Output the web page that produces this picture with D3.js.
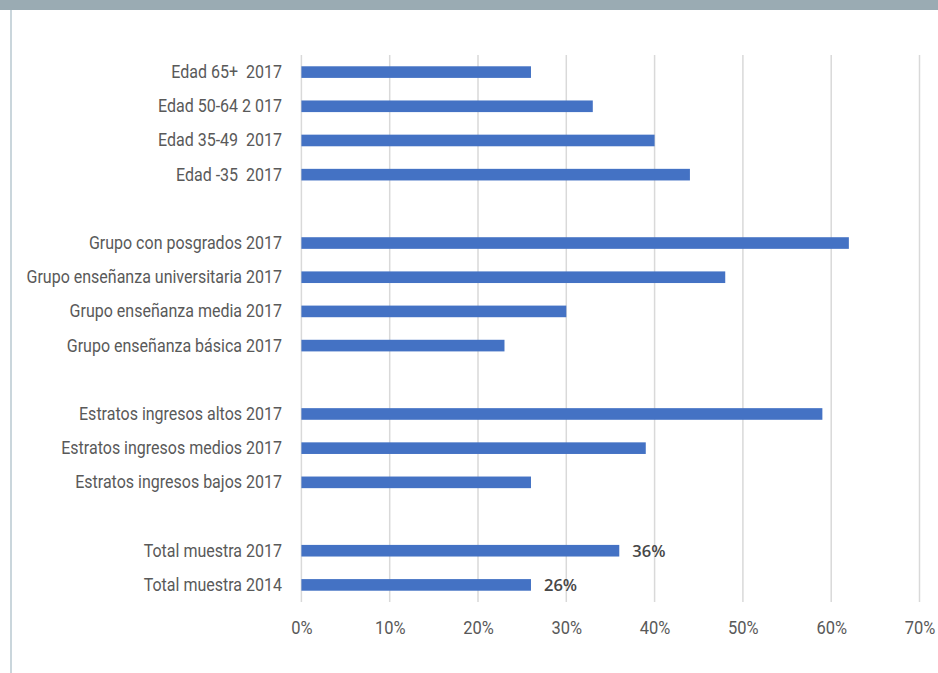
<!DOCTYPE html>
<html>
<head>
<meta charset="utf-8">
<script src="https://cdn.jsdelivr.net/npm/d3@7"></script>
<style>
  html, body { margin: 0; padding: 0; background: #ffffff; }
  svg { display: block; }
  .cat, .tick-label { font-family: Roboto, "DejaVu Sans", sans-serif; fill: #595959; }
  .val { font-family: "Open Sans", "Noto Sans", sans-serif; fill: #474747; font-weight: 600; }
</style>
</head>
<body>
<svg id="chart" width="938" height="673"></svg>
<script>
// Share of respondents per group (top to bottom), in percent
const categories = [
  "Edad 65+  2017",
  "Edad 50-64 2 017",
  "Edad 35-49  2017",
  "Edad -35  2017",
  "Grupo con posgrados 2017",
  "Grupo enseñanza universitaria 2017",
  "Grupo enseñanza media 2017",
  "Grupo enseñanza básica 2017",
  "Estratos ingresos altos 2017",
  "Estratos ingresos medios 2017",
  "Estratos ingresos bajos 2017",
  "Total muestra 2017",
  "Total muestra 2014"
];
const values = [26, 33, 40, 44, 62, 48, 30, 23, 59, 39, 26, 36, 26];
// Rows per block; an empty row separates consecutive blocks
const groupSizes = [4, 4, 3, 2];
// Rows that carry a value label
const labeledRows = ["Total muestra 2017", "Total muestra 2014"];
const tickValues = [0, 10, 20, 30, 40, 50, 60, 70];

const W = 938, H = 673;
const NARROW = "scale(0.915,1)"; // condensed look for the axis text
const svg = d3.select("#chart");

// Frame: top band and left rule
svg.append("rect").attr("x", 0).attr("y", 0).attr("width", W).attr("height", 10).attr("fill", "#9aabb3");
svg.append("rect").attr("x", 10).attr("y", 10).attr("width", 2).attr("height", H - 10).attr("fill", "#cad6dc");

// Build the row slots, inserting a spacer between blocks
const slots = [];
let idx = 0;
groupSizes.forEach((n, g) => {
  for (let i = 0; i < n; i++) slots.push(categories[idx++]);
  if (g < groupSizes.length - 1) slots.push("__gap" + g);
});

const plotTop = 55, plotBottom = 602;
const x = d3.scaleLinear().domain([0, 70]).range([301.4, 919.5]);
const y = d3.scaleBand().domain(slots).range([plotTop, plotBottom])
  .paddingInner(0.66).paddingOuter(0.33);

// Vertical gridlines
svg.append("g").selectAll("line").data(tickValues).join("line")
  .attr("x1", d => x(d)).attr("x2", d => x(d))
  .attr("y1", plotTop).attr("y2", plotBottom)
  .attr("stroke", "#d9d9d9").attr("stroke-width", 1.5);

// Bottom axis labels
const xAxis = d3.axisBottom(x).tickValues(tickValues).tickFormat(d => d + "%").tickSize(0).tickPadding(0);
const ax = svg.append("g").attr("transform", `translate(0,${plotBottom + 32})`).call(xAxis);
ax.select(".domain").remove();
ax.selectAll("text").attr("class", "tick-label").attr("y", 0).attr("dy", 0)
  .attr("transform", NARROW)
  .style("font-size", "18px").attr("fill", null);

// Category labels
const yAxis = d3.axisLeft(y).tickSize(0).tickPadding(0);
const ay = svg.append("g").attr("transform", `translate(282,0)`).call(yAxis);
ay.select(".domain").remove();
ay.selectAll(".tick").filter(d => String(d).startsWith("__gap")).remove();
ay.selectAll("text").attr("class", "cat").attr("dy", "0.34em")
  .attr("transform", NARROW)
  .style("font-size", "17.5px").attr("fill", null).style("white-space", "pre");

const rows = categories.map((c, i) => ({ c, v: values[i] }));

// Bars
svg.append("g").selectAll("rect").data(rows).join("rect")
  .attr("x", x(0))
  .attr("y", d => y(d.c))
  .attr("width", d => x(d.v) - x(0))
  .attr("height", y.bandwidth())
  .attr("fill", "#4472c4");

// Value labels
svg.append("g").selectAll("text").data(rows.filter(d => labeledRows.includes(d.c))).join("text")
  .attr("class", "val")
  .attr("x", d => x(d.v) + 13)
  .attr("y", d => y(d.c) + y.bandwidth() / 2)
  .attr("dy", "0.36em")
  .style("font-size", "16.5px")
  .text(d => d.v + "%");
</script>
</body>
</html>
